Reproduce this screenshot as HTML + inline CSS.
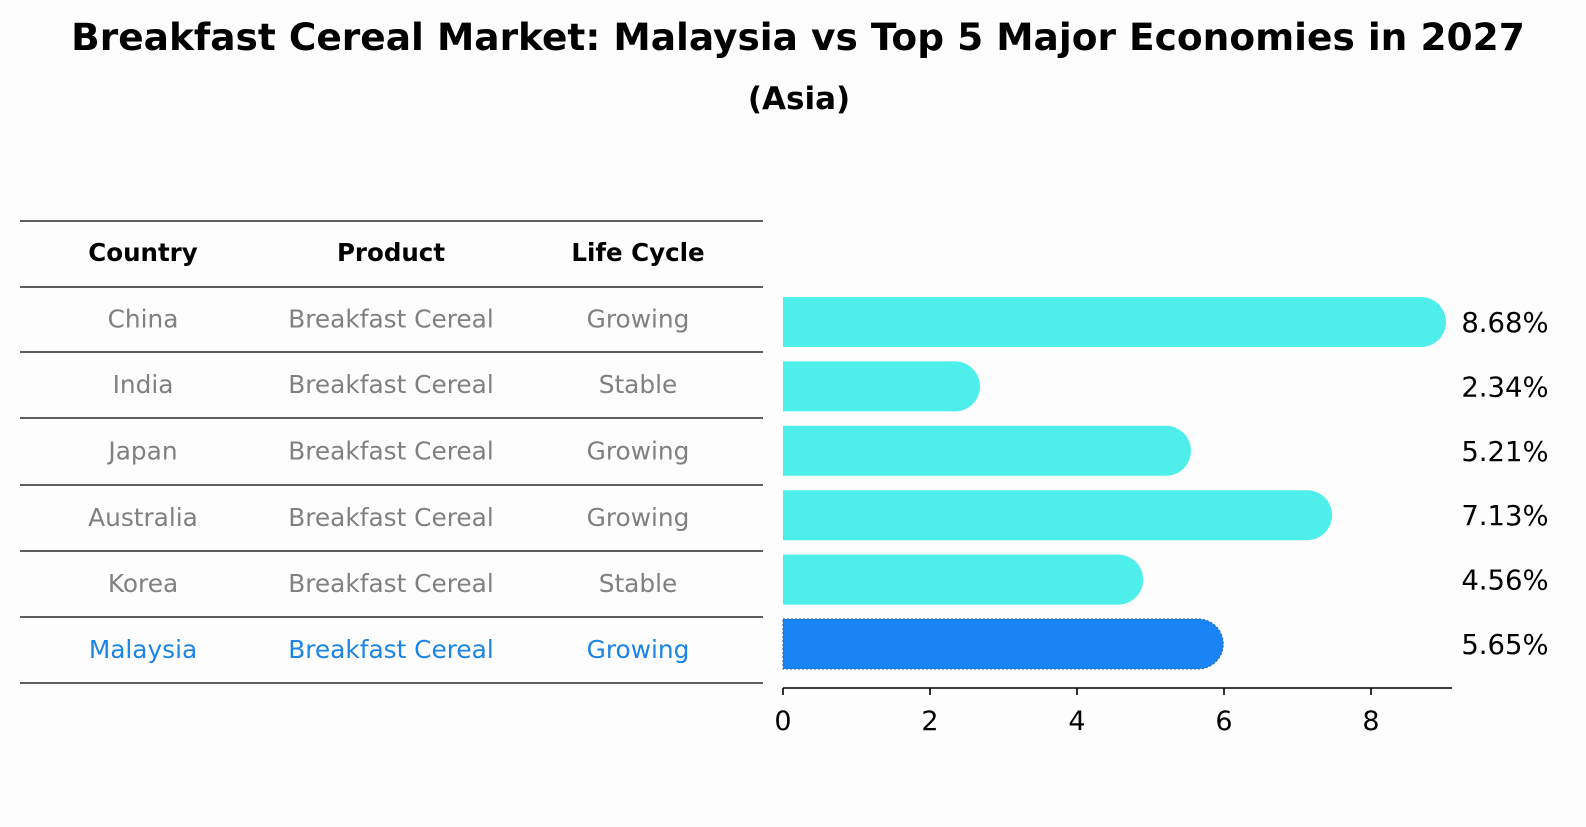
<!DOCTYPE html>
<html><head><meta charset="utf-8"><style>
body{margin:0;background:#fdfdfd;font-family:"DejaVu Sans","Liberation Sans",sans-serif;}
</style></head><body>
<svg width="1586" height="823" xmlns="http://www.w3.org/2000/svg" style="font-family:'DejaVu Sans','Liberation Sans',sans-serif">
<rect width="1586" height="823" fill="#fdfdfd"/>
<text x="798" y="50" text-anchor="middle" font-size="37.5" font-weight="bold">Breakfast Cereal Market: Malaysia vs Top 5 Major Economies in 2027</text>
<text x="799" y="109" text-anchor="middle" font-size="31" font-weight="bold">(Asia)</text>
<g id="table"></g>
<g id="bars"></g>
</svg>
<script>
const countries=["China","India","Japan","Australia","Korea","Malaysia"];
const products=["Breakfast Cereal","Breakfast Cereal","Breakfast Cereal","Breakfast Cereal","Breakfast Cereal","Breakfast Cereal"];
const lifeCycles=["Growing","Stable","Growing","Growing","Stable","Growing"];
const values=[8.68,2.34,5.21,7.13,4.56,5.65];
const ticks=[0,2,4,6,8];
const NS="http://www.w3.org/2000/svg";
function mk(tag,attrs,parent,text){const e=document.createElementNS(NS,tag);for(const k in attrs)e.setAttribute(k,attrs[k]);if(text!==undefined)e.textContent=text;parent.appendChild(e);return e;}
const tbl=document.getElementById('table');
const lineYs=[221,287,352,418,485,551,617,683];
lineYs.forEach(y=>{const l=mk('line',{x1:20,x2:763,y1:y,y2:y,stroke:'#000','stroke-width':1.2},tbl);

});
const cx=[143,391,638];
["Country","Product","Life Cycle"].forEach((h,i)=>{const t=mk('text',{x:cx[i],y:261,'text-anchor':'middle','font-size':24.5,'font-weight':'bold'},tbl,h);

});
countries.forEach((c,r)=>{const y=(lineYs[r+1]+lineYs[r+2])/2+8;const col=c==="Malaysia"?"#1a84e8":"#808080";
[c,products[r],lifeCycles[r]].forEach((v,i)=>{const t=mk('text',{x:cx[i],y:y,'text-anchor':'middle','font-size':24.8,fill:col},tbl,v);

});});
const g=document.getElementById('bars');
const x0=783,ppu=73.5;const xs=v=>x0+v*ppu;
const barY=r=>297+r*64.4;const bh=50;
values.forEach((v,r)=>{const y=barY(r);const isM=countries[r]==="Malaysia";const col=isM?"#1a84f5":"#4eeeea";const x1=xs(v);const rr=bh/2;
const p=mk('path',{d:`M${x0},${y} H${x1} A${rr},${rr} 0 0 1 ${x1},${y+bh} H${x0} Z`,fill:col},g);
if(isM){p.setAttribute('stroke','#1566c0');p.setAttribute('stroke-dasharray','2,2');p.setAttribute('stroke-width','1');}


const t=mk('text',{x:1505,y:y+bh/2+10,'text-anchor':'middle','font-size':27.5},g,v.toFixed(2)+'%');

});
const ax=mk('line',{x1:x0,x2:1452,y1:688,y2:688,stroke:'#000','stroke-width':1.6},g);


ticks.forEach(v=>{const tk=mk('line',{x1:xs(v),x2:xs(v),y1:688,y2:695,stroke:'#000','stroke-width':1.6},g);


const t=mk('text',{x:xs(v),y:730,'text-anchor':'middle','font-size':27},g,String(v));

});
</script>
</body></html>
